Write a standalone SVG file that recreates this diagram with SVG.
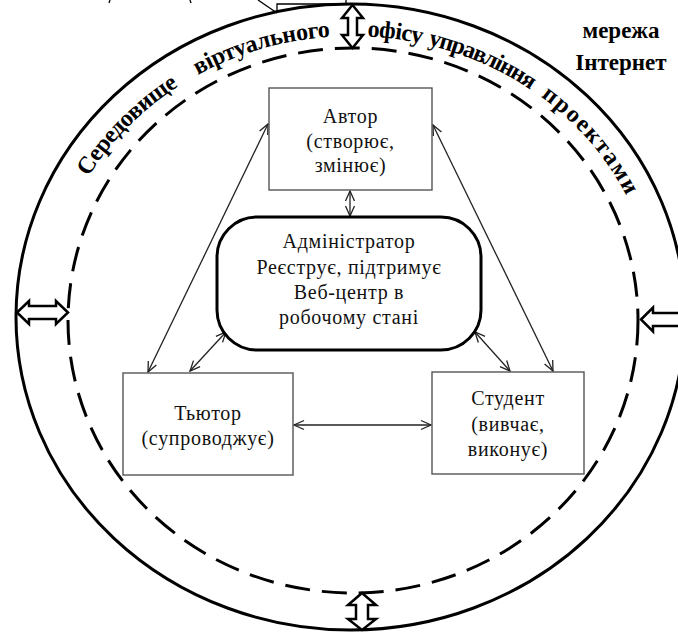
<svg xmlns="http://www.w3.org/2000/svg" width="678" height="632" viewBox="0 0 678 632">
<style>
.node{fill:#fff;stroke:#555;stroke-width:1.4}
.admin{fill:#fff;stroke:#000;stroke-width:3}
.t{font-family:"Liberation Serif","DejaVu Serif",serif;font-size:20px;fill:#111;text-anchor:middle;letter-spacing:0.7px}
.arc{font-family:"Liberation Serif","DejaVu Serif",serif;font-size:24px;font-weight:bold;fill:#000}
.net{font-family:"Liberation Serif","DejaVu Serif",serif;font-size:23px;font-weight:bold;fill:#000;text-anchor:middle}
.con{fill:none;stroke:#222;stroke-width:1.3;marker-start:url(#ah);marker-end:url(#ah)}
.block{fill:#fff;stroke:#000;stroke-width:2.5;stroke-linejoin:miter}
</style>
<defs>
<marker id="ah" viewBox="0 0 12 12" refX="11" refY="6" markerWidth="12" markerHeight="12" markerUnits="userSpaceOnUse" orient="auto-start-reverse">
<path d="M1,1.5 L11,6 L1,10.5" fill="none" stroke="#222" stroke-width="1.3"/>
</marker>
<path id="arcText" d="M47,319 A305,283 0 0 1 657,319"/>
</defs>
<rect width="678" height="632" fill="#fff"/>

<g id="fragments" fill="none" stroke="#000" stroke-width="1.3">
<path d="M110,0 L109,3"/>
<path d="M190,0 L191,3"/>
<path d="M258,0 L277,13"/>
<path d="M346,0 L346,4 L277,4 L277,13"/>
</g>

<g id="environment">
<ellipse cx="350.5" cy="317" rx="334.5" ry="313" fill="none" stroke="#000" stroke-width="3"/>
<ellipse cx="353" cy="320.5" rx="285" ry="272.5" fill="none" stroke="#000" stroke-width="3" stroke-dasharray="25 12"/>
<text class="arc"><textPath href="#arcText" startOffset="150" textLength="129" lengthAdjust="spacing">Середовище</textPath></text>
<text class="arc"><textPath href="#arcText" startOffset="301" textLength="139" lengthAdjust="spacing">віртуального</textPath></text>
<text class="arc"><textPath href="#arcText" startOffset="477" textLength="55" lengthAdjust="spacing">офісу</textPath></text>
<text class="arc"><textPath href="#arcText" startOffset="538" textLength="113" lengthAdjust="spacing">управління</textPath></text>
<text class="arc"><textPath href="#arcText" startOffset="663" textLength="132" lengthAdjust="spacing">проектами</textPath></text>
</g>

<g id="internet">
<text class="net" x="621" y="38">мережа</text>
<text class="net" x="621" y="70">Інтернет</text>
</g>

<g id="block-arrows">
<path class="block" d="M352.5,5 L363,18 L357,18 L357,35 L363,35 L352.5,48 L342,35 L348,35 L348,18 L342,18 Z"/>
<path class="block" d="M362,593 L376,605 L368,605 L368,619 L376,619 L362,630 L348,619 L356,619 L356,605 L348,605 Z"/>
<path class="block" d="M17,312.5 L29,301 L29,306 L56,306 L56,301 L68,312.5 L56,324 L56,319 L29,319 L29,324 Z"/>
<path class="block" d="M641,319.5 L653,307.5 L653,313 L690,313 L690,307.5 L702,319.5 L690,331.5 L690,326 L653,326 L653,331.5 Z"/>
</g>

<g id="connectors">
<path class="con" d="M350,191 L350,216"/>
<path class="con" d="M148,372 L268,124"/>
<path class="con" d="M190,371 L226,332"/>
<path class="con" d="M433,125 L553,371"/>
<path class="con" d="M475,332 L510,371"/>
<path class="con" d="M294,425 L431,425"/>
</g>

<g id="author">
<rect class="node" x="269" y="88" width="163" height="102"/>
<text class="t" x="350.5" y="123">Автор</text>
<text class="t" x="350.5" y="148">(створює,</text>
<text class="t" x="350.5" y="172">змінює)</text>
</g>

<g id="admin">
<rect class="admin" x="217" y="217" width="264" height="133" rx="40" ry="40"/>
<text class="t" x="349" y="248">Адміністратор</text>
<text class="t" x="349" y="274">Реєструє, підтримує</text>
<text class="t" x="349" y="299">Веб-центр в</text>
<text class="t" x="349" y="324">робочому стані</text>
</g>

<g id="tutor">
<rect class="node" x="123" y="373" width="170" height="102"/>
<text class="t" x="208" y="420">Тьютор</text>
<text class="t" x="208" y="445">(супроводжує)</text>
</g>

<g id="student">
<rect class="node" x="432" y="372" width="152" height="102"/>
<text class="t" x="508" y="405">Студент</text>
<text class="t" x="508" y="431">(вивчає,</text>
<text class="t" x="508" y="456">виконує)</text>
</g>
</svg>
